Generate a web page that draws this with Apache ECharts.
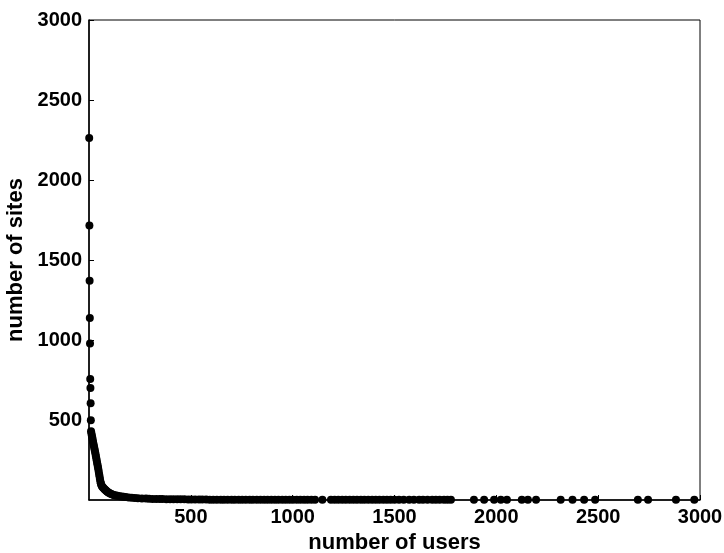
<!DOCTYPE html>
<html>
<head>
<meta charset="utf-8">
<script src="https://cdn.jsdelivr.net/npm/echarts@6/dist/echarts.min.js"></script>
<style>
  html, body { margin: 0; padding: 0; background: #fff; }
  #chart { width: 724px; height: 553px; }
</style>
</head>
<body>
<div id="chart"></div>
<script>
// number of users per site (x) and how many sites have that many users (y)
const users = [
  1, 2, 3, 4, 5, 6, 7, 8, 9,
  10, 12, 14, 16, 18, 20, 22, 24, 26, 28, 30, 32, 34, 36, 38, 40,
  42, 44, 46, 48, 50, 52, 54, 56, 58, 60, 63, 66, 70, 74, 78, 82, 86, 90,
  95, 100, 106, 112, 118, 125, 132, 140, 150, 160, 170, 180, 195, 210, 225,
  240, 260, 280, 295, 312, 330, 347, 361, 380, 398, 415, 433, 450, 468,
  487, 503, 521, 540, 556, 575, 593, 610, 628, 647, 663, 681, 700, 716,
  735, 752, 770, 789, 805, 824, 842, 860, 877, 895, 913, 930, 949, 966,
  984, 1001, 1020, 1038, 1056, 1073, 1092, 1110, 1146, 1188, 1206, 1224,
  1243, 1261, 1280, 1298, 1316, 1335, 1352, 1371, 1390, 1408, 1426, 1445,
  1463, 1481, 1500, 1522, 1545, 1572, 1595, 1621, 1640, 1662, 1685, 1703,
  1722, 1743, 1760, 1777, 1890, 1940, 1989,
  2022, 2052, 2125, 2155, 2195, 2316, 2374, 2431, 2485, 2695, 2745, 2882, 2972
];
const sites = [
  2262, 1716, 1371, 1137, 978, 757, 700, 604, 498,
  430, 415, 402, 390, 376, 362, 350, 338, 325, 312, 300, 287, 274, 260, 246, 232,
  218, 204, 190, 175, 160, 146, 130, 116, 104, 95, 88, 82, 76, 71, 66, 61, 56, 52,
  47, 43, 39, 36, 33, 30, 28, 26, 24, 22, 20, 18, 16, 14, 12,
  11, 10, 9, 8, 7, 7, 6, 6, 5, 5, 5, 4, 4, 4,
  3, 3, 3, 3, 3, 3, 2, 2, 2, 2, 2, 2, 2, 2,
  2, 2, 2, 2, 2, 2, 2, 1, 1, 1, 1, 1, 1, 1,
  1, 1, 1, 1, 1, 1, 1, 1, 1, 1, 1, 1,
  1, 1, 1, 1, 1, 1, 1, 1, 1, 1, 1, 1,
  1, 1, 1, 1, 1, 1, 1, 1, 1, 1, 1, 1,
  1, 1, 1, 1, 1, 1, 1,
  1, 1, 1, 1, 1, 1, 1, 1, 1, 1, 1, 1, 1
];
const xTicks = { min: 0, max: 3000, interval: 500 };
const yTicks = { min: 0, max: 3000, interval: 500 };

const chart = echarts.init(document.getElementById("chart"));

const labelFont = {
  color: "#000",
  fontFamily: "Liberation Sans, Arial, sans-serif",
  fontWeight: "bold",
  fontSize: 20,
};
const nameFont = {
  color: "#000",
  fontFamily: "Liberation Sans, Arial, sans-serif",
  fontWeight: "bold",
  fontSize: 22,
};

chart.setOption({
  backgroundColor: "#fff",
  animation: false,
  grid: {
    left: 89,
    right: 24,
    top: 20,
    bottom: 53,
    outerBoundsMode: "none",
    containLabel: false,
    show: true,
    borderColor: "#000",
    borderWidth: 1,
    backgroundColor: "#fff",
  },
  xAxis: {
    type: "value",
    min: xTicks.min,
    max: xTicks.max,
    interval: xTicks.interval,
    name: "number of users",
    nameLocation: "middle",
    nameGap: 28,
    nameTextStyle: nameFont,
    axisLine: { show: true, onZero: false, lineStyle: { color: "#000", width: 1.5 } },
    axisTick: { show: true, inside: true, length: 5, lineStyle: { color: "#000" } },
    axisLabel: { ...labelFont, margin: 7, showMinLabel: false, formatter: (v) => String(v) },
    splitLine: { show: false },
  },
  yAxis: {
    type: "value",
    min: yTicks.min,
    max: yTicks.max,
    interval: yTicks.interval,
    name: "number of sites",
    nameLocation: "middle",
    nameGap: 55,
    nameTextStyle: nameFont,
    axisLine: { show: true, onZero: false, lineStyle: { color: "#000", width: 1.5 } },
    axisTick: { show: true, inside: true, length: 5, lineStyle: { color: "#000" } },
    axisLabel: { ...labelFont, margin: 7, showMinLabel: false, formatter: (v) => String(v) },
    splitLine: { show: false },
  },
  series: [
    {
      type: "scatter",
      data: users.map((u, i) => [u, sites[i]]),
      symbol: "circle",
      symbolSize: 8,
      clip: false,
      itemStyle: { color: "#000", opacity: 1 },
    },
  ],
});
</script>
</body>
</html>
